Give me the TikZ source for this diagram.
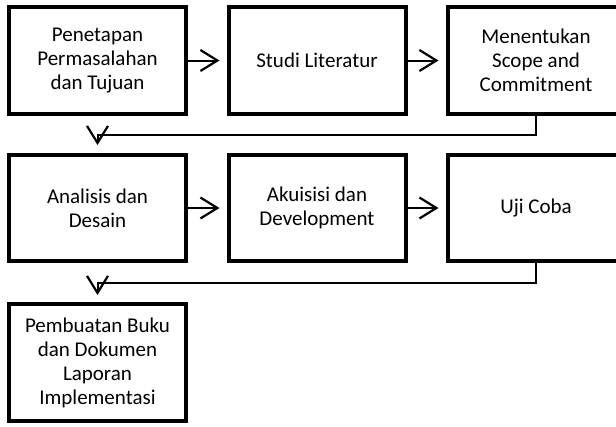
\documentclass[tikz,border=0pt]{standalone}
\usepackage{fontspec}
\setmainfont{Carlito}
\usetikzlibrary{arrows.meta}
\begin{document}
\begin{tikzpicture}[x=1pt,y=-1pt,
  stepbox/.style={draw=black,line width=4pt,rectangle,minimum width=177pt,minimum height=107pt,align=center,inner sep=0pt,font=\fontsize{21}{24}\selectfont},
  arr/.style={line width=2pt,-{Straight Barb[length=17pt,width=21pt,line width=2.2pt]}}]
\useasboundingbox (0,0) rectangle (616,426);
\node[stepbox] (b1) at (97.5,60.5) {Penetapan\\Permasalahan\\dan Tujuan};
\node[stepbox] (b2) at (317,60.5) {Studi Literatur};
\node[stepbox] (b3) at (536,60.5) {Menentukan\\Scope and\\Commitment};
\node[stepbox,minimum height=106pt] (b4) at (97.5,208) {Analisis dan\\Desain};
\node[stepbox,minimum height=106pt] (b5) at (317,208) {Akuisisi dan\\Development};
\node[stepbox,minimum height=106pt] (b6) at (536,208) {Uji Coba};
\node[stepbox,minimum height=117pt] (b7) at (97.5,362.5) {Pembuatan Buku\\dan Dokumen\\Laporan\\Implementasi};
\draw[arr,shorten >=7pt] (b1.east) -- (b2.west);
\draw[arr,shorten >=7pt] (b2.east) -- (b3.west);
\draw[arr,shorten >=7pt] (b4.east) -- (b5.west);
\draw[arr,shorten >=7pt] (b5.east) -- (b6.west);
\draw[arr,shorten >=8pt] (b3.south) -- ++(0,19) -| (b4.north);
\draw[arr,shorten >=7pt] (b6.south) -- ++(0,20) -| (b7.north);
\end{tikzpicture}
\end{document}
